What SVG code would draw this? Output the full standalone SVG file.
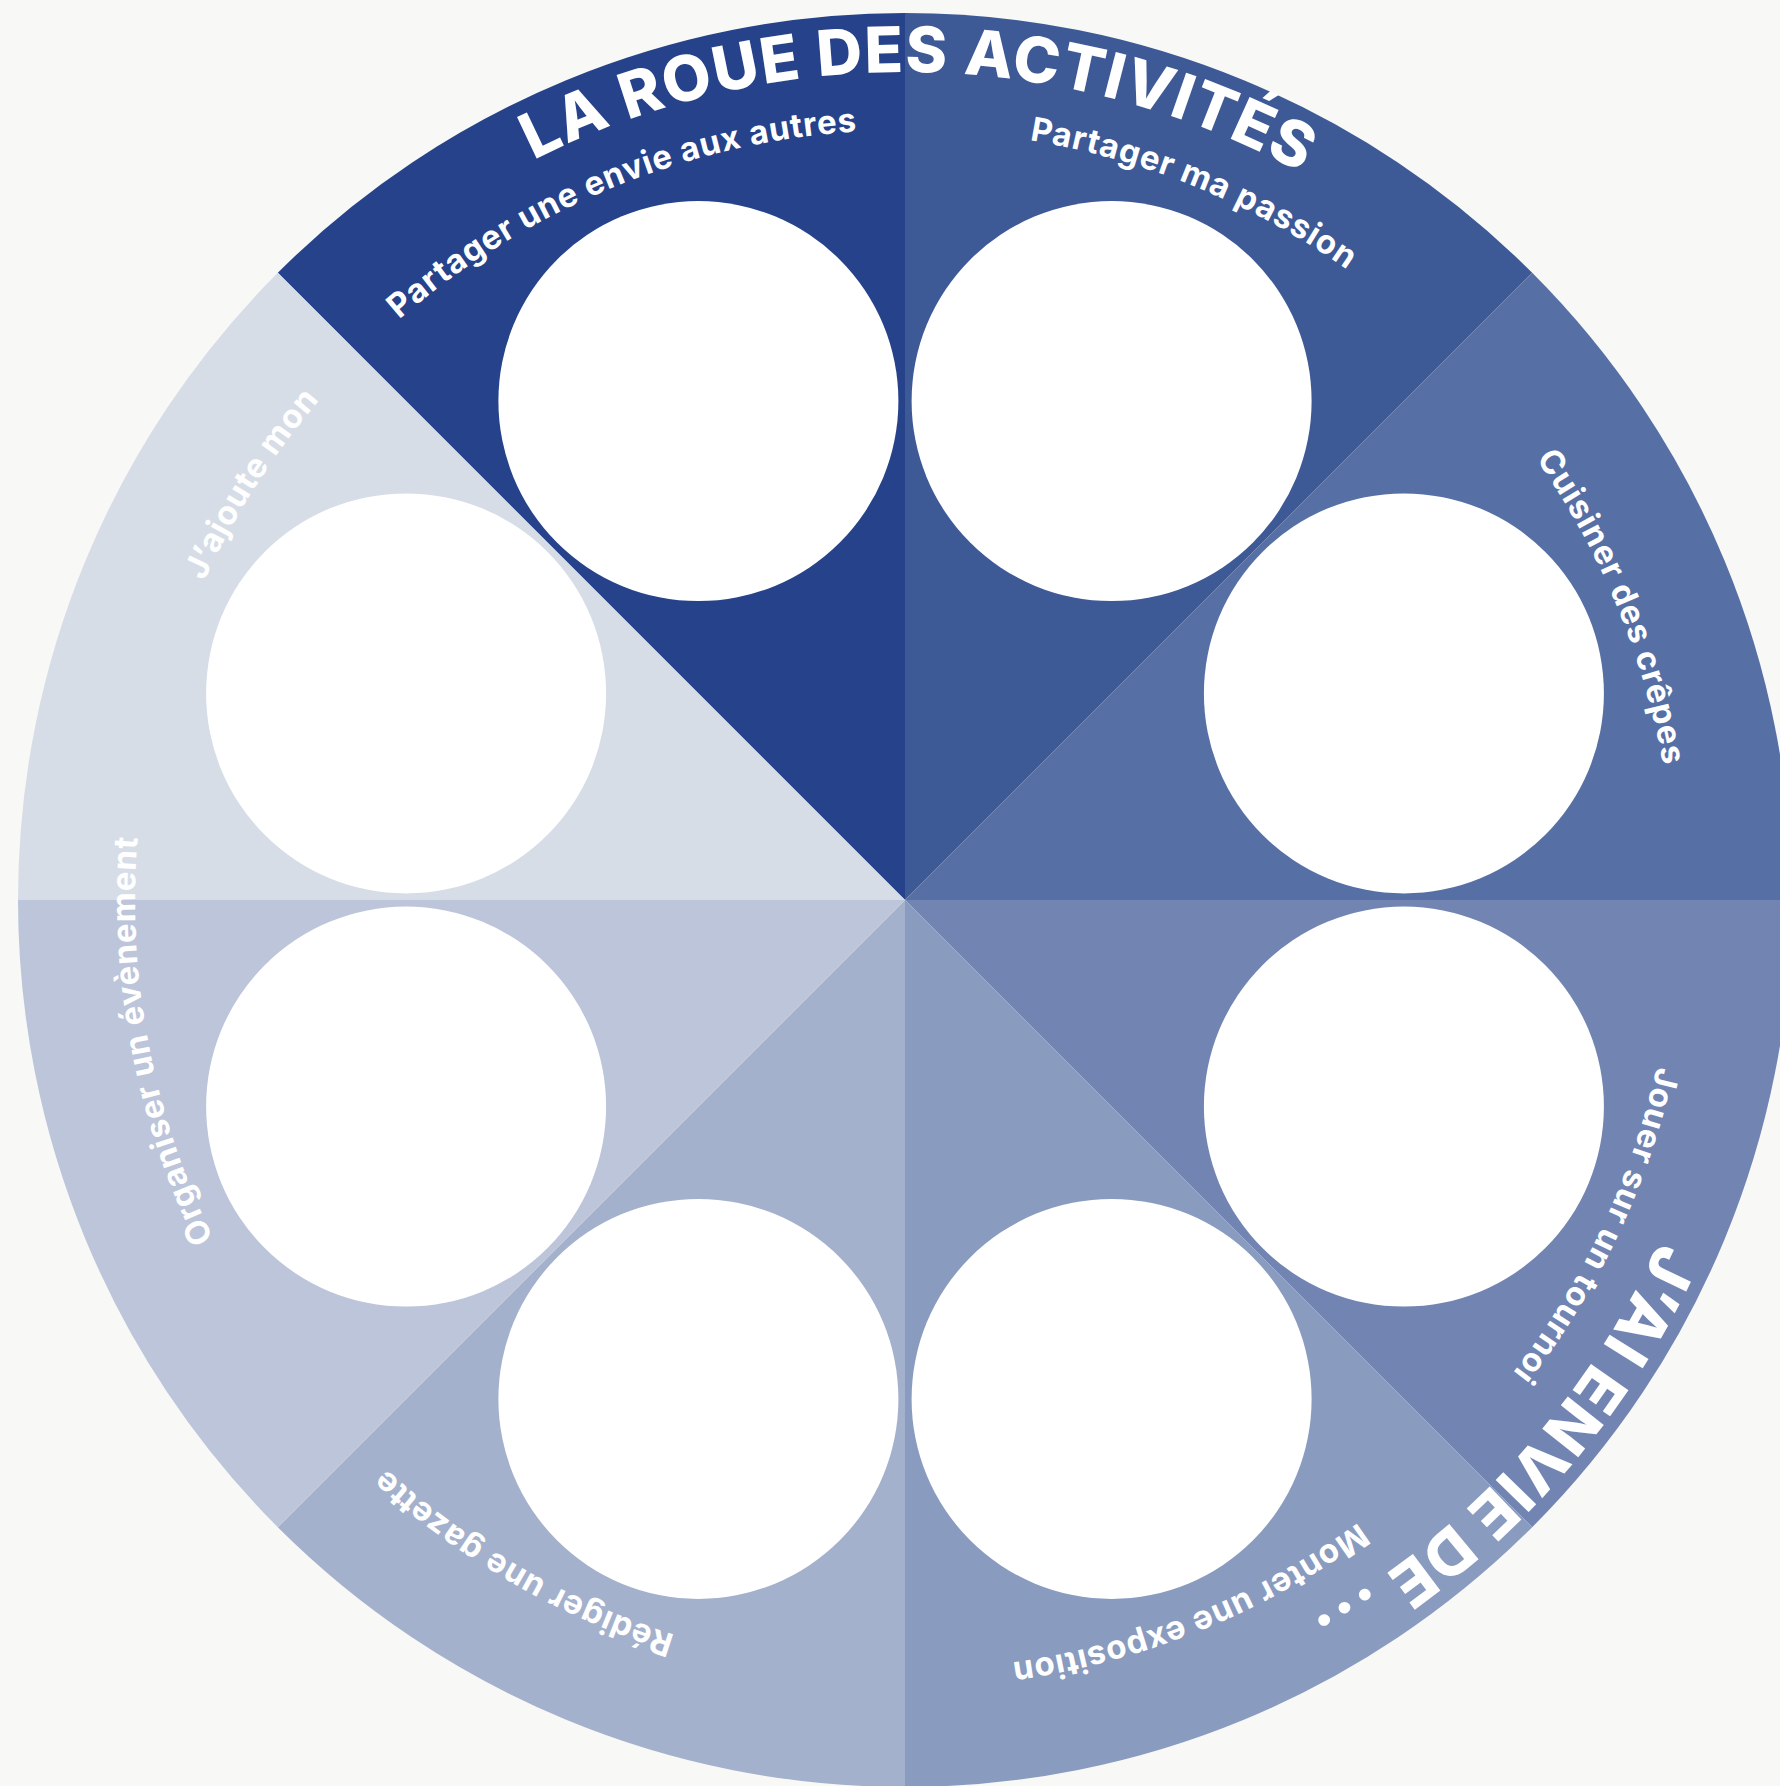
<svg xmlns="http://www.w3.org/2000/svg" xmlns:xlink="http://www.w3.org/1999/xlink" width="1780" height="1786" viewBox="0 0 1780 1786">
<defs>
<style>
.lbl{font-family:Inter,"Noto Sans","Liberation Sans",sans-serif;font-weight:700;font-size:33px;fill:#ffffff;letter-spacing:0.8px}
.ttl{font-family:Inter,"Noto Sans","Liberation Sans",sans-serif;font-weight:800;font-size:63px;fill:#ffffff;letter-spacing:1.5px}
.hole{fill:#ffffff}
</style>
<path id="arcL" d="M146.7,766.3 A770,770 0 0 1 1663.3,766.3" fill="none"/>
<path id="arcT" d="M89.6,756.2 A828,828 0 0 1 1720.4,756.2" fill="none"/>
</defs>
<rect x="0" y="0" width="1780" height="1786" fill="#F8F8F6"/>

<g id="node-partager-envie">
<path d="M905,900 L277.8,272.8 A887,887 0 0 1 905,13 Z" fill="#25428A"/>
<circle class="hole" cx="698.4" cy="401.1" r="200"/>
<g transform="rotate(-22.3 905 900)"><text class="lbl"><textPath xlink:href="#arcL" href="#arcL" startOffset="50%" text-anchor="middle">Partager une envie aux autres</textPath></text></g>
</g>

<g id="node-partager-passion">
<path d="M905,900 L905,13 A887,887 0 0 1 1532.2,272.8 Z" fill="#3D5996"/>
<circle class="hole" cx="1111.6" cy="401.1" r="200"/>
<g transform="rotate(22.2 905 900)"><text class="lbl"><textPath xlink:href="#arcL" href="#arcL" startOffset="50%" text-anchor="middle">Partager ma passion</textPath></text></g>
</g>

<g id="node-cuisiner">
<path d="M905,900 L1532.2,272.8 A887,887 0 0 1 1792,900 Z" fill="#566FA5"/>
<circle class="hole" cx="1403.9" cy="693.4" r="200"/>
<g transform="rotate(67.5 905 900)"><text class="lbl"><textPath xlink:href="#arcL" href="#arcL" startOffset="50%" text-anchor="middle">Cuisiner des crêpes</textPath></text></g>
</g>

<g id="node-jouer">
<path d="M905,900 L1792,900 A887,887 0 0 1 1532.2,1527.2 Z" fill="#7184B2"/>
<circle class="hole" cx="1403.9" cy="1106.6" r="200"/>
<g transform="rotate(115.2 905 900)"><text class="lbl"><textPath xlink:href="#arcL" href="#arcL" startOffset="50%" text-anchor="middle">Jouer sur un tournoi</textPath></text></g>
</g>

<g id="node-monter">
<path d="M905,900 L1532.2,1527.2 A887,887 0 0 1 905,1787 Z" fill="#8A9BC0"/>
<circle class="hole" cx="1111.6" cy="1398.9" r="200"/>
<g transform="rotate(158 905 900)"><text class="lbl"><textPath xlink:href="#arcL" href="#arcL" startOffset="50%" text-anchor="middle">Monter une exposition</textPath></text></g>
</g>

<g id="node-rediger">
<path d="M905,900 L905,1787 A887,887 0 0 1 277.8,1527.2 Z" fill="#A4B1CD"/>
<circle class="hole" cx="698.4" cy="1398.9" r="200"/>
<g transform="rotate(209.9 905 900)"><text class="lbl"><textPath xlink:href="#arcL" href="#arcL" startOffset="50%" text-anchor="middle">Rédiger une gazette</textPath></text></g>
</g>

<g id="node-organiser">
<path d="M905,900 L277.8,1527.2 A887,887 0 0 1 18,900 Z" fill="#BCC5D9"/>
<circle class="hole" cx="406.1" cy="1106.6" r="200"/>
</g>

<g id="node-ajoute">
<path d="M905,900 L18,900 A887,887 0 0 1 277.8,272.8 Z" fill="#D7DDE7"/>
<circle class="hole" cx="406.1" cy="693.4" r="200"/>
<g transform="rotate(302.5 905 900)"><text class="lbl"><textPath xlink:href="#arcL" href="#arcL" startOffset="50%" text-anchor="middle">J’ajoute mon</textPath></text></g>
</g>

<g id="label-organiser" transform="rotate(259.3 905 900)"><text class="lbl"><textPath xlink:href="#arcL" href="#arcL" startOffset="50%" text-anchor="middle">Organiser un évènement</textPath></text></g>

<g id="title">
<g transform="rotate(1 905 900)"><text class="ttl"><textPath xlink:href="#arcT" href="#arcT" startOffset="50%" text-anchor="middle">LA ROUE DES ACTIVITÉS</textPath></text></g>
<g transform="rotate(132.5 905 900)"><text class="ttl"><textPath xlink:href="#arcT" href="#arcT" startOffset="50%" text-anchor="middle">J’AI ENVIE DE ...</textPath></text></g>
</g>

<g id="connectors"/>
</svg>
